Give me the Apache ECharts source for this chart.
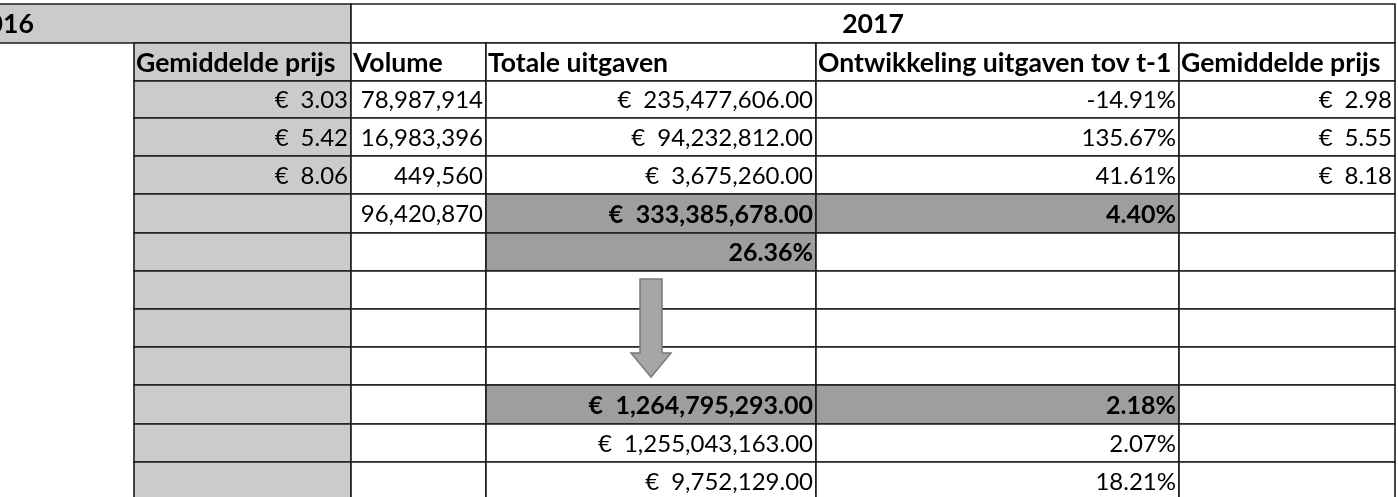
<!DOCTYPE html>
<html>
<head>
<meta charset="utf-8">
<script src="https://cdn.jsdelivr.net/npm/echarts@6/dist/echarts.min.js"></script>
<style>
html,body{margin:0;padding:0;background:#fff;}
#chart{width:1398px;height:497px;}
</style>
</head>
<body>
<div id="chart"></div>
<script>
// ---- data ----
const years = ['2016', '2017'];
const headers = ['Gemiddelde prijs', 'Volume', 'Totale uitgaven', 'Ontwikkeling uitgaven tov t-1', 'Gemiddelde prijs'];
const prijs2016 = [3.03, 5.42, 8.06];
const volume = [78987914, 16983396, 449560];
const volumeTotaal = 96420870;
const uitgaven = [235477606, 94232812, 3675260];
const ontwikkeling = [-14.91, 135.67, 41.61];
const prijs2017 = [2.98, 5.55, 8.18];
const uitgavenTotaal = 333385678;
const ontwikkelingTotaal = 4.40;
const aandeel = 26.36;
const markt = [1264795293, 1255043163, 9752129];
const marktOntwikkeling = [2.18, 2.07, 18.21];

// ---- layout (axis units = pixels) ----
const colEdges = [134, 351, 486, 816, 1179, 1395];
const rowEdges = [4, 43, 81, 118, 156, 194, 233, 271, 309, 347, 385, 424, 462, 500];
const LIGHT = '#cbcbcb', DARK = '#9e9e9e', WHITE = '#ffffff';
const FONT = 'Lato';
const FS_HEAD = 26.6, FS_NUM = 24, FS_BOLDNUM = 25;

const fmtInt = n => n.toLocaleString('en-US');
const fmtEur = (n, d) => '€\u2002' + n.toLocaleString('en-US', {minimumFractionDigits: d, maximumFractionDigits: d});
const fmtPct = n => n.toFixed(2) + '%';

const cells = [];
function cell(x0, x1, r, text, opts) {
  opts = opts || {};
  cells.push({x0, x1, y0: rowEdges[r], y1: rowEdges[r + 1], text: text || '',
    align: opts.align || 'right', bold: !!opts.bold, fill: opts.fill || WHITE,
    size: opts.size || FS_NUM, textX: opts.textX});
}
function col(c, r, text, opts) { cell(colEdges[c], colEdges[c + 1], r, text, opts); }

// header row with years
cell(-70, colEdges[1], 0, years[0], {align: 'center', bold: true, fill: LIGHT, size: FS_HEAD, textX: 3});
cell(colEdges[1], colEdges[5], 0, years[1], {align: 'center', bold: true, size: FS_HEAD});
// column headers
headers.forEach((h, i) => col(i, 1, h, {align: 'left', bold: true, size: FS_HEAD, fill: i === 0 ? LIGHT : WHITE}));
// detail rows
for (let i = 0; i < 3; i++) {
  const r = 2 + i;
  col(0, r, fmtEur(prijs2016[i], 2), {fill: LIGHT});
  col(1, r, fmtInt(volume[i]));
  col(2, r, fmtEur(uitgaven[i], 2));
  col(3, r, fmtPct(ontwikkeling[i]));
  col(4, r, fmtEur(prijs2017[i], 2));
}
// totals
const B = {bold: true, fill: DARK, size: FS_BOLDNUM};
col(0, 5, '', {fill: LIGHT});
col(1, 5, fmtInt(volumeTotaal));
col(2, 5, fmtEur(uitgavenTotaal, 2), B);
col(3, 5, fmtPct(ontwikkelingTotaal), B);
col(4, 5, '');
col(0, 6, '', {fill: LIGHT});
col(1, 6, '');
col(2, 6, fmtPct(aandeel), B);
col(3, 6, '');
col(4, 6, '');
for (let r = 7; r <= 9; r++) {
  col(0, r, '', {fill: LIGHT});
  for (let c = 1; c < 5; c++) col(c, r, '');
}
// market rows
for (let i = 0; i < 3; i++) {
  const r = 10 + i;
  const o = i === 0 ? B : {};
  col(0, r, '', {fill: LIGHT});
  col(1, r, '');
  col(2, r, fmtEur(markt[i], 2), o);
  col(3, r, fmtPct(marktOntwikkeling[i]), o);
  col(4, r, '');
}

// arrow layout: center x, top, head start, tip, shaft half width, head half width
const arrow = [[651, 279, 353, 377, 11, 20]];

const chart = echarts.init(document.getElementById('chart'), null, {renderer: 'canvas'});
chart.setOption({
  animation: false,
  backgroundColor: '#ffffff',
  grid: {left: 0, right: 0, top: 0, bottom: 0},
  xAxis: {type: 'value', min: 0, max: 1398, show: false},
  yAxis: {type: 'value', min: 0, max: 497, inverse: true, show: false},
  series: [
    {
      type: 'custom',
      clip: false,
      data: cells.map(c => [c.x0, c.y0, c.x1, c.y1]),
      encode: {x: [0, 2], y: [1, 3]},
      renderItem: function (params, api) {
        const c = cells[params.dataIndex];
        const p0 = api.coord([c.x0, c.y0]);
        const p1 = api.coord([c.x1, c.y1]);
        let tx;
        if (c.textX !== undefined) tx = api.coord([c.textX, 0])[0];
        else if (c.align === 'right') tx = p1[0] - 3;
        else if (c.align === 'left') tx = p0[0] + 2;
        else tx = (p0[0] + p1[0]) / 2;
        return {
          type: 'group',
          children: [
            {type: 'rect', shape: {x: p0[0], y: p0[1], width: p1[0] - p0[0], height: p1[1] - p0[1]},
              style: {fill: c.fill, stroke: '#1c1c1c', lineWidth: 1.6}},
            {type: 'text', style: {text: c.text, x: tx, y: (p0[1] + p1[1]) / 2 + 1,
              align: c.align, verticalAlign: 'middle',
              font: (c.bold ? 'bold ' : '') + c.size + 'px ' + FONT, fill: '#000'}}
          ]
        };
      }
    },
    {
      type: 'custom',
      clip: false,
      data: arrow,
      renderItem: function (params, api) {
        const a = arrow[params.dataIndex];
        const pts = [
          [a[0] - a[4], a[1]], [a[0] + a[4], a[1]], [a[0] + a[4], a[2]], [a[0] + a[5], a[2]],
          [a[0], a[3]], [a[0] - a[5], a[2]], [a[0] - a[4], a[2]]
        ].map(p => api.coord(p));
        return {type: 'polygon', shape: {points: pts}, style: {fill: '#a6a6a6', stroke: '#7a7a7a', lineWidth: 1.5}};
      }
    }
  ]
});
</script>
</body>
</html>
